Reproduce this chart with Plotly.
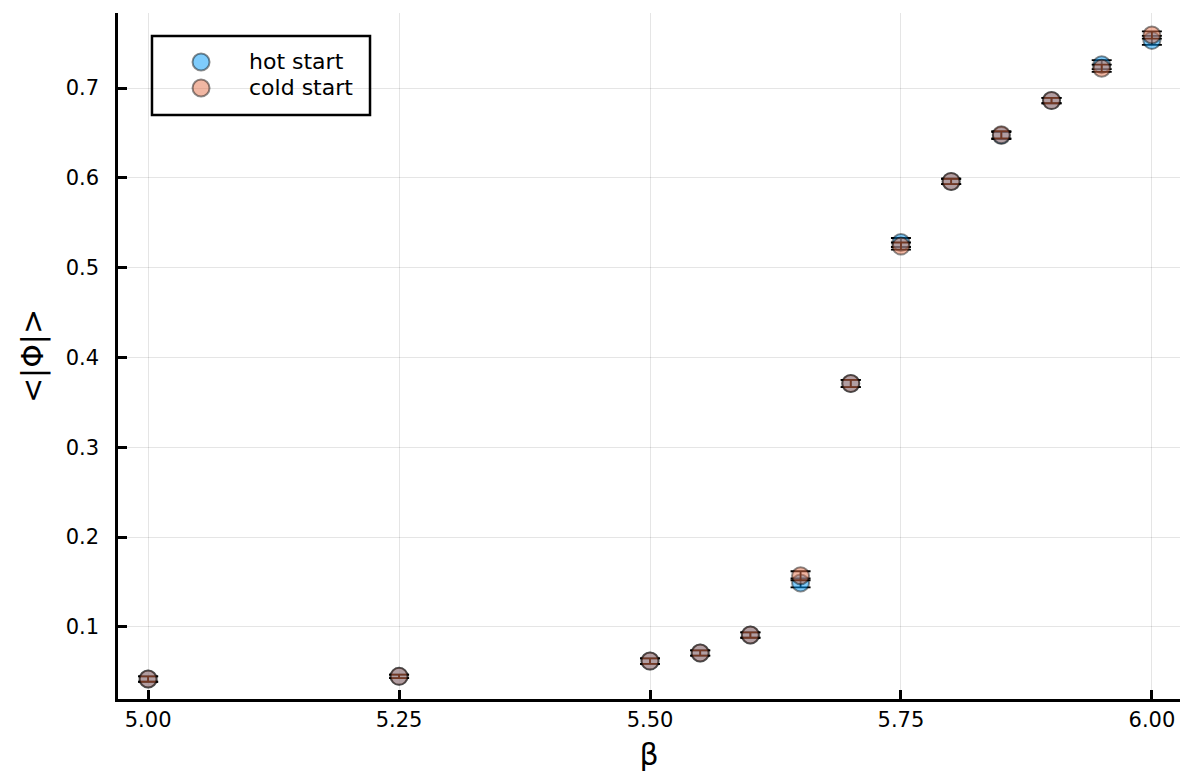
import plotly.graph_objects as go

# Coupling values and mean |Phi| for the two starting configurations
beta = [5.00, 5.25, 5.50, 5.55, 5.60, 5.65, 5.70, 5.75, 5.80, 5.85, 5.90, 5.95, 6.00]
hot_phi = [0.042, 0.045, 0.062, 0.071, 0.091, 0.149, 0.371, 0.528, 0.596, 0.647, 0.686, 0.726, 0.753]
hot_err = [0.003, 0.002, 0.003, 0.003, 0.003, 0.005, 0.004, 0.005, 0.003, 0.004, 0.003, 0.005, 0.005]
cold_phi = [0.042, 0.045, 0.062, 0.071, 0.091, 0.157, 0.371, 0.524, 0.596, 0.648, 0.686, 0.722, 0.759]
cold_err = [0.003, 0.002, 0.003, 0.003, 0.003, 0.005, 0.004, 0.004, 0.003, 0.004, 0.003, 0.004, 0.004]

series_names = ["hot start", "cold start"]
series_rgb = ["0,154,250", "227,111,71"]

x_ticks = [5.00, 5.25, 5.50, 5.75, 6.00]
x_ticklabels = ["5.00", "5.25", "5.50", "5.75", "6.00"]
y_ticks = [0.1, 0.2, 0.3, 0.4, 0.5, 0.6, 0.7]
y_ticklabels = ["0.1", "0.2", "0.3", "0.4", "0.5", "0.6", "0.7"]

FONT = "DejaVu Sans"
TICK_SIZE = 21
GUIDE_SIZE = 30
MARKER_SIZE = 17


def marker_style(rgb):
    return dict(size=MARKER_SIZE, color=f"rgba({rgb},0.5)",
                line=dict(color="rgba(0,0,0,0.45)", width=2))


fig = go.Figure()
for name, y, err, rgb in zip(series_names, [hot_phi, cold_phi], [hot_err, cold_err], series_rgb):
    # error bars first, so the translucent markers sit on top of them
    fig.add_trace(go.Scatter(
        x=beta, y=y, mode="markers", showlegend=False, hoverinfo="skip",
        marker=dict(size=1, color="rgba(0,0,0,0)"),
        error_y=dict(type="data", array=err, visible=True,
                     color="black", thickness=1.8, width=10),
    ))
    fig.add_trace(go.Scatter(
        x=beta, y=y, name=name, mode="markers", showlegend=False,
        marker=marker_style(rgb),
    ))

# legend: symbols on an overlay axis spanning the plot area in [0, 1]
legend_sym_x = 0.0782
legend_row_y = [0.9286, 0.8907]
for name, rgb, ry in zip(series_names, series_rgb, legend_row_y):
    fig.add_trace(go.Scatter(
        x=[legend_sym_x], y=[ry], xaxis="x2", yaxis="y2", mode="markers",
        showlegend=False, hoverinfo="skip", cliponaxis=False,
        marker=marker_style(rgb),
    ))
    fig.add_annotation(
        x=0.1215, y=ry, xref="paper", yref="paper", text=name,
        showarrow=False, xanchor="left", yanchor="middle",
        font=dict(family=FONT, size=TICK_SIZE + 1, color="black"),
    )
fig.add_shape(type="rect", xref="paper", yref="paper",
              x0=0.0320, x1=0.2373, y0=0.8513, y1=0.9665,
              line=dict(color="black", width=2.5), fillcolor="rgba(0,0,0,0)",
              layer="above")

axis_common = dict(
    showline=True, linecolor="black", linewidth=2.5,
    ticks="inside", ticklen=9, tickwidth=2.5, tickcolor="black",
    showgrid=True, gridcolor="rgba(0,0,0,0.1)", gridwidth=1,
    zeroline=False, mirror=False,
    tickfont=dict(family=FONT, size=TICK_SIZE, color="black"),
)

fig.update_layout(
    width=1181, height=779,
    margin=dict(l=118, r=1, t=13, b=80),
    paper_bgcolor="white", plot_bgcolor="white",
    font=dict(family=FONT, color="black"),
    xaxis=dict(range=[4.970, 6.028], tickvals=x_ticks, ticktext=x_ticklabels,
               title=dict(text="β", font=dict(family=FONT, size=GUIDE_SIZE), standoff=14),
               **axis_common),
    yaxis=dict(range=[0.0198, 0.7835], tickvals=y_ticks, ticktext=y_ticklabels,
               ticklabelstandoff=12,
               title=dict(text="<|Φ|>", font=dict(family=FONT, size=GUIDE_SIZE), standoff=14),
               **axis_common),
    xaxis2=dict(overlaying="x", range=[0, 1], visible=False),
    yaxis2=dict(overlaying="y", range=[0, 1], visible=False),
    showlegend=False,
)

fig.write_html("out.html")
